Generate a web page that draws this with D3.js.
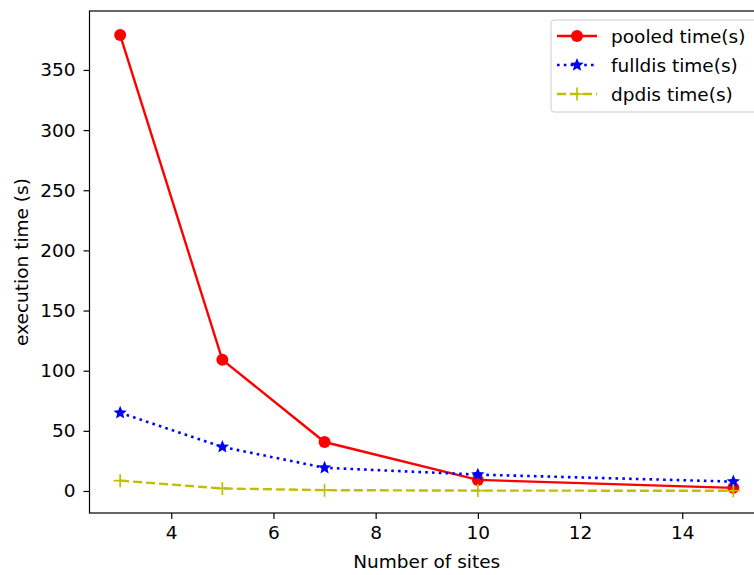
<!DOCTYPE html>
<html><head><meta charset="utf-8">
<script src="https://cdn.jsdelivr.net/npm/d3@7"></script>
<style>body{margin:0;background:#fff}svg{display:block}text{font-family:"DejaVu Sans",sans-serif}</style>
</head><body>
<svg id="c" width="754" height="575"></svg>
<script>
const sites = [3, 5, 7, 10, 15];
const pooled = [379, 109, 40.7, 9.2, 2.6];
const fulldis = [65, 36.6, 19.3, 13.6, 7.8];
const dpdis = [8.6, 2.1, 0.7, 0.3, 0.2];
const xTicks = [4, 6, 8, 10, 12, 14];
const yTicks = [0, 50, 100, 150, 200, 250, 300, 350];
const seriesNames = ["pooled time(s)", "fulldis time(s)", "dpdis time(s)"];

const FS = 18.5;
const svg = d3.select("#c");
const L = 89.5, R = 764, T = 11, B = 513;
const x = d3.scaleLinear().domain([2.4, 15.6]).range([L, R]);
const y = d3.scaleLinear().domain([-18.3, 399]).range([B, T]);

const xa = svg.append("g").attr("transform", `translate(0,${B})`)
  .call(d3.axisBottom(x).tickValues(xTicks).tickSize(6).tickPadding(9).tickFormat(d3.format("d")));
const ya = svg.append("g").attr("transform", `translate(${L},0)`)
  .call(d3.axisLeft(y).tickValues(yTicks).tickSize(6).tickPadding(8).tickFormat(d3.format("d")));
[xa, ya].forEach(a => {
  a.selectAll("path").remove();
  a.selectAll("line").attr("stroke", "#000").attr("stroke-width", 1.2);
  a.selectAll("text").attr("font-size", FS).attr("fill", "#000").attr("font-family", "DejaVu Sans");
});
xa.selectAll("text").attr("dy", "0.6em");
svg.append("rect").attr("x", L).attr("y", T).attr("width", R - L).attr("height", B - T)
  .attr("fill", "none").attr("stroke", "#000").attr("stroke-width", 1.2);

const line = d3.line().x((d, i) => x(sites[i])).y(d => y(d));
const g = svg.append("g");

function star(cx, cy, r) {
  const pts = [];
  for (let k = 0; k < 10; k++) {
    const a = -Math.PI / 2 + k * Math.PI / 5;
    const rr = k % 2 === 0 ? r : r * 0.45;
    pts.push([cx + rr * Math.cos(a), cy + rr * Math.sin(a)]);
  }
  return "M" + pts.map(p => p.join(",")).join("L") + "Z";
}
const LW = 2.4;
// pooled
g.append("path").datum(pooled).attr("d", line).attr("fill", "none").attr("stroke", "#ff0000").attr("stroke-width", LW);
g.selectAll(".pm").data(pooled).enter().append("circle")
  .attr("cx", (d, i) => x(sites[i])).attr("cy", d => y(d)).attr("r", 6).attr("fill", "#ff0000");
// fulldis
g.append("path").datum(fulldis).attr("d", line).attr("fill", "none").attr("stroke", "#0000ff")
  .attr("stroke-width", 2.6).attr("stroke-dasharray", "2.6,4.2").attr("stroke-linecap", "butt");
g.selectAll(".fm").data(fulldis).enter().append("path")
  .attr("d", (d, i) => star(x(sites[i]), y(d), 7)).attr("fill", "#0000ff");
// dpdis
g.append("path").datum(dpdis).attr("d", line).attr("fill", "none").attr("stroke", "#bfbf00")
  .attr("stroke-width", LW).attr("stroke-dasharray", "9,4");
g.selectAll(".dm").data(dpdis).enter().append("path")
  .attr("d", (d, i) => { const cx = x(sites[i]), cy = y(d); return `M${cx-6.5},${cy}H${cx+6.5}M${cx},${cy-6.5}V${cy+6.5}`; })
  .attr("stroke", "#bfbf00").attr("stroke-width", 1.7);

// axis labels
svg.append("text").attr("x", (L + R) / 2).attr("y", 568).attr("text-anchor", "middle")
  .attr("font-size", FS).text("Number of sites");
svg.append("text").attr("transform", `translate(28,${(T + B) / 2}) rotate(-90)`).attr("text-anchor", "middle")
  .attr("font-size", FS).text("execution time (s)");

// legend
const lg = svg.append("g");
lg.append("rect").attr("x", 551).attr("y", 20).attr("width", 208).attr("height", 92).attr("rx", 3)
  .attr("fill", "#fff").attr("fill-opacity", 0.8).attr("stroke", "#ccc").attr("stroke-width", 1);
const rows = [36, 65, 94];
lg.append("line").attr("x1", 557).attr("x2", 597).attr("y1", rows[0]).attr("y2", rows[0]).attr("stroke", "#ff0000").attr("stroke-width", LW);
lg.append("circle").attr("cx", 577).attr("cy", rows[0]).attr("r", 6).attr("fill", "#ff0000");
lg.append("line").attr("x1", 557).attr("x2", 597).attr("y1", rows[1]).attr("y2", rows[1]).attr("stroke", "#0000ff").attr("stroke-width", 2.6).attr("stroke-dasharray", "2.6,4.2");
lg.append("path").attr("d", star(577, rows[1], 7)).attr("fill", "#0000ff");
lg.append("line").attr("x1", 557).attr("x2", 597).attr("y1", rows[2]).attr("y2", rows[2]).attr("stroke", "#bfbf00").attr("stroke-width", LW).attr("stroke-dasharray", "9,4");
lg.append("path").attr("d", `M570.5,${rows[2]}H583.5M577,${rows[2]-6.5}V${rows[2]+6.5}`).attr("stroke", "#bfbf00").attr("stroke-width", 1.7);
seriesNames.forEach((n, i) => lg.append("text").attr("x", 611).attr("y", rows[i] + 6.5).attr("font-size", FS).text(n));
</script>
</body></html>
